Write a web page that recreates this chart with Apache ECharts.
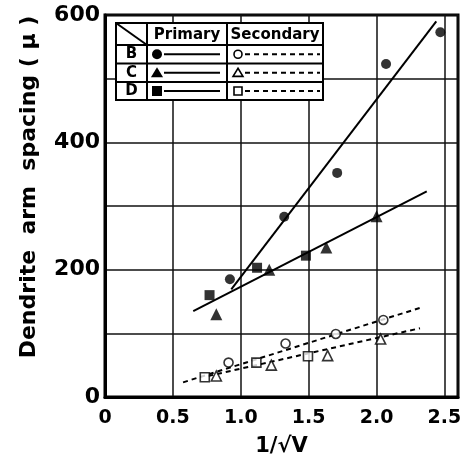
<!DOCTYPE html>
<html>
<head>
<meta charset="utf-8">
<script src="https://cdn.jsdelivr.net/npm/echarts@6/dist/echarts.min.js"></script>
<style>html,body{margin:0;padding:0;background:#fff}#c{width:471px;height:462px}</style>
</head>
<body>
<div id="c"></div>
<script>
// ---- data ----
var xTicks = [0, 0.5, 1.0, 1.5, 2.0, 2.5];
var yTickLabels = [0, 200, 400, 600];

var primaryB = [[0.92,185],[1.32,283],[1.71,352],[2.07,523],[2.47,573]];
var primaryC = [[0.82,130],[1.21,200],[1.63,235],[2.00,284]];
var primaryD = [[0.77,160],[1.12,203],[1.48,222]];
var secondaryB = [[0.91,54],[1.33,84],[1.70,99],[2.05,121]];
var secondaryC = [[0.82,33],[1.225,50],[1.64,65],[2.03,91]];
var secondaryD = [[0.735,31],[1.115,54],[1.495,64]];

var fitPrimaryB = [[0.93,169],[2.44,590]];
var fitPrimaryCD = [[0.65,135],[2.37,323]];
var fitSecondaryB = [[0.575,23],[2.32,140]];
var fitSecondaryCD = [[0.76,33],[2.32,108]];

var rowLabels = ['B','C','D'];
var colLabels = ['Primary','Secondary'];

// ---- chart ----
var FONT = 'DejaVu Sans';
var chart = echarts.init(document.getElementById('c'), null, {renderer:'canvas'});

function fitLine(data, dashed){
  return {type:'line', data:data, showSymbol:false, silent:true, z:2,
    lineStyle:{color:'#000', width:2, type: dashed ? [5,4] : 'solid'}};
}
function pts(data, symbol, size, open){
  return {type:'scatter', data:data, symbol:symbol, symbolSize:size, z:5,
    itemStyle: open ? {color:'#fff', borderColor:'#000', borderWidth:1.6} : {color:'#000'}};
}

// legend table (drawn as graphics)
var T = {x0:116, x1:323, y0:23, y1:100, c1:147, c2:227, rows:[45,63.5,82]};
var g = [];
g.push({type:'rect', shape:{x:T.x0, y:T.y0, width:T.x1-T.x0, height:T.y1-T.y0}, style:{fill:'#fff', stroke:'#000', lineWidth:2}, z:10});
[T.c1, T.c2].forEach(function(x){ g.push({type:'line', shape:{x1:x,y1:T.y0,x2:x,y2:T.y1}, style:{stroke:'#000', lineWidth:2}, z:11}); });
T.rows.forEach(function(y){ g.push({type:'line', shape:{x1:T.x0,y1:y,x2:T.x1,y2:y}, style:{stroke:'#000', lineWidth:2}, z:11}); });
g.push({type:'line', shape:{x1:T.x0,y1:T.y0,x2:T.c1,y2:T.rows[0]}, style:{stroke:'#000', lineWidth:2}, z:11});
g.push({type:'text', x:(T.c1+T.c2)/2, y:35, style:{text:colLabels[0], font:'bold 15px "DejaVu Sans"', fill:'#000', align:'center', verticalAlign:'middle'}, z:12});
g.push({type:'text', x:(T.c2+T.x1)/2, y:35, style:{text:colLabels[1], font:'bold 15px "DejaVu Sans"', fill:'#000', align:'center', verticalAlign:'middle'}, z:12});
var rowMid = [(T.rows[0]+T.rows[1])/2, (T.rows[1]+T.rows[2])/2, (T.rows[2]+T.y1)/2];
function marker(type, cx, cy, open){
  var st = open ? {fill:'#fff', stroke:'#000', lineWidth:1.6} : {fill:'#000'};
  if(type==='circle') return {type:'circle', shape:{cx:cx, cy:cy, r: open?4:5}, style:st, z:13};
  if(type==='rect') return {type:'rect', shape:{x:cx-(open?4:5), y:cy-(open?4:5), width:open?8:10, height:open?8:10}, style:st, z:13};
  var h = open?4.5:5.5;
  return {type:'polygon', shape:{points:[[cx,cy-h],[cx+h*1.1,cy+h*0.8],[cx-h*1.1,cy+h*0.8]]}, style:st, z:13};
}
var mtypes = ['circle','triangle','rect'];
rowLabels.forEach(function(lbl,i){
  var y = rowMid[i];
  g.push({type:'text', x:(T.x0+T.c1)/2, y:y, style:{text:lbl, font:'bold 15px "DejaVu Sans"', fill:'#000', align:'center', verticalAlign:'middle'}, z:12});
  g.push(marker(mtypes[i], 157, y, false));
  g.push({type:'line', shape:{x1:164,y1:y,x2:220,y2:y}, style:{stroke:'#000', lineWidth:2}, z:12});
  g.push(marker(mtypes[i], 238, y, true));
  g.push({type:'line', shape:{x1:245,y1:y,x2:320,y2:y}, style:{stroke:'#000', lineWidth:2, lineDash:[5,4]}, z:12});
});

var option = {
  backgroundColor:'#fff',
  animation:false,
  grid:{left:105, right:13, top:15, bottom:64, show:true, borderColor:'#000', borderWidth:3, backgroundColor:'transparent'},
  xAxis:{type:'value', min:0, max:2.6, interval:0.5,
    name:'1/√V', nameLocation:'middle', nameGap:39,
    nameTextStyle:{fontFamily:FONT, fontWeight:'bold', fontSize:21, color:'#000'},
    axisLine:{show:true, lineStyle:{color:'#000', width:3}},
    axisTick:{show:false},
    axisLabel:{fontFamily:FONT, fontWeight:'bold', fontSize:19, color:'#000', margin:12, showMaxLabel:false,
      formatter:function(v){ for(var i=0;i<xTicks.length;i++){ if(Math.abs(v-xTicks[i])<1e-6) return v===0?'0':v.toFixed(1);} return ''; }},
    splitLine:{show:true, lineStyle:{color:'#111', width:1.5}}
  },
  yAxis:{type:'value', min:0, max:600, interval:100,
    name:'Dendrite  arm  spacing ( μ )', nameLocation:'middle', nameGap:65, nameRotate:90,
    nameTextStyle:{fontFamily:FONT, fontWeight:'bold', fontSize:22, color:'#000', padding:[0,0,0,38]},
    axisLine:{show:true, lineStyle:{color:'#000', width:3}},
    axisTick:{show:false},
    axisLabel:{fontFamily:FONT, fontWeight:'bold', fontSize:22, color:'#000', margin:5,
      formatter:function(v){ return yTickLabels.indexOf(v)>=0 ? String(v) : ''; }},
    splitLine:{show:true, lineStyle:{color:'#111', width:1.5}}
  },
  series:[
    fitLine(fitPrimaryB,false), fitLine(fitPrimaryCD,false),
    fitLine(fitSecondaryB,true), fitLine(fitSecondaryCD,true),
    pts(primaryB,'circle',10,false), pts(primaryC,'triangle',12,false), pts(primaryD,'rect',10,false),
    pts(secondaryB,'circle',9,true), pts(secondaryC,'triangle',10,true), pts(secondaryD,'rect',9,true)
  ],
  graphic:g
};
chart.setOption(option);
</script>
</body>
</html>
